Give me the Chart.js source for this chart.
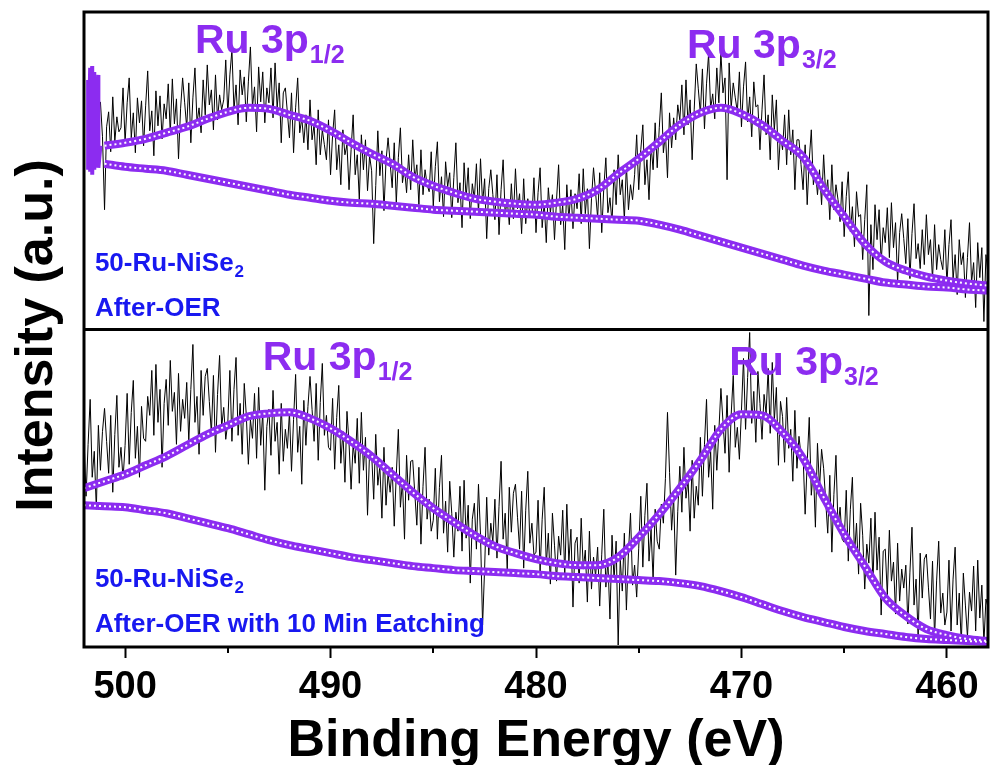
<!DOCTYPE html>
<html>
<head>
<meta charset="utf-8">
<script src="https://cdn.jsdelivr.net/npm/chart.js@4.4.1/dist/chart.umd.min.js"></script>
<style>
  html, body { margin: 0; padding: 0; background: #fff; }
</style>
</head>
<body>
<canvas id="chart" width="990" height="765"></canvas>
<script>
// raw spectra, 0.1 eV grid, intensity in a.u.
var rawStep = 0.1;
var topRawStart = 501.2;
var topRaw = [
    228,193,120,203,218,178,233,188,213,198, 202,242,187,227,252,192,217,177,232,207,
    229,184,224,259,199,219,174,239,204,234, 191,226,211,246,196,251,206,231,171,221,
    252,227,202,247,187,232,262,207,222,197, 250,215,265,225,240,200,255,210,235,220,
    230,270,215,255,280,220,245,205,260,235, 253,208,248,283,223,243,198,263,228,258,
    207,242,227,262,212,267,222,247,187,237, 242,217,192,237,177,222,252,197,212,187,
    215,180,230,190,205,165,220,175,200,185, 170,210,155,195,220,160,185,145,200,175,
    185,140,180,215,155,175,130,195,160,190, 139,174,159,86,144,199,154,179,119,169,
    192,167,142,187,127,172,202,147,162,137, 175,140,190,150,165,125,180,135,160,145,
    138,178,123,163,188,128,153,113,168,143, 157,112,152,187,127,147,102,167,132,162,
    111,146,131,166,116,171,126,151,91,141, 160,135,110,155,95,140,170,115,130,105,
    146,111,161,121,136,96,151,106,131,116, 112,152,97,137,162,102,127,87,142,117,
    135,90,130,165,105,125,80,145,110,140, 101,136,121,156,106,161,116,141,81,131,
    162,137,112,157,97,142,172,117,132,107, 160,125,175,135,150,110,165,120,145,130,
    155,195,140,180,205,145,170,130,185,160, 207,162,202,237,177,197,152,217,182,212,
    190,225,210,245,195,250,205,230,170,220, 266,241,216,261,201,246,276,221,236,211,
    262,227,277,237,252,150,267,222,247,232, 218,258,203,243,268,208,233,193,248,223,
    225,180,220,255,195,215,170,235,200,230, 160,195,180,215,165,220,175,200,140,190,
    190,165,140,185,125,170,200,145,160,135, 160,125,175,135,150,110,165,120,145,130,
    108,148,93,133,158,98,123,83,138,113, 115,70,110,145,14,105,60,125,90,120,
    67,102,87,122,72,127,82,107,47,97, 116,91,66,111,51,96,126,71,86,61,
    100,65,115,75,90,50,105,60,85,70, 60,100,45,85,110,50,75,35,90,65,
    77,32,72,107,47,67,22,87,52,82, 8,75,55
];
var bottomRawStart = 502.0;
var bottomRaw = [
    210,151,203,248,170,196,138,222,177,216, 239,206,174,232,155,213,252,180,200,168,
    202,254,183,235,267,189,221,170,241,209, 206,251,232,277,212,283,225,258,180,244,
    268,222,287,236,255,203,274,216,248,229, 265,206,258,303,225,251,193,277,232,271,
    279,246,214,272,195,253,292,220,240,208, 225,277,206,258,290,212,244,193,264,232,
    183,228,209,254,189,260,202,235,157,221, 238,192,257,206,225,173,244,186,218,199,
    235,176,228,273,195,221,163,247,202,241, 271,238,206,264,187,245,284,212,232,200,
    197,249,178,230,262,184,216,165,236,204, 158,203,184,229,164,235,177,210,132,196,
    194,148,213,162,181,129,200,142,174,155, 180,121,173,218,140,166,108,192,147,186,
    187,154,122,180,103,161,200,128,148,116, 127,179,108,160,192,114,146,95,166,134,
    90,135,116,161,96,167,109,142,64,128, 144,98,163,112,22,79,150,92,124,105,
    148,89,141,186,108,134,76,160,115,154, 163,130,98,156,79,137,176,104,124,92,
    95,147,76,128,160,82,114,63,134,102, 66,111,92,137,72,143,85,118,40,104,
    110,64,129,78,97,45,116,58,90,71, 100,41,93,138,60,86,28,112,67,106,
    2,88,56,114,37,95,134,62,82,50, 99,151,80,132,164,86,118,67,138,106,
    98,143,124,169,235,175,117,150,72,136, 181,135,200,149,168,116,187,129,161,142,
    210,151,203,248,170,196,138,222,177,216, 259,226,194,252,175,233,272,200,220,188,
    237,289,218,270,315,224,256,205,276,244, 208,253,234,279,214,285,227,260,182,246,
    231,185,250,199,218,166,237,179,211,192, 192,133,185,230,152,178,120,204,159,198,
    179,146,114,172,95,153,192,120,140,108, 105,157,86,138,170,92,124,73,144,112,
    58,103,84,129,64,135,77,110,32,96, 98,52,117,66,85,33,104,46,78,59,
    82,23,75,120,42,68,10,94,49,88, 93,60,28,86,9,67,106,34,54,22,
    35,87,16,68,100,22,54,3,74,42, 10,55,36,81,16,87,29,62,4,48,
    40
];

// peak fit (envelope) and Shirley background, 1 eV grid
var fitStep = 1;
var topFitStart = 501;
var topEnvelope = [184,187,191,197,203,211,218,222,221,215,209,199,187,176,166,153,144,137,131,128,126,125,
    127,131,140,156,171,188,205,217,222,216,205,189,173,141,113,86,68,59,53,49,46,44];
var topBackground = [166,163,161,159,155,151,147,143,139,135,132,129,127,126,124,122,120,119,118,117,116,115,
    113,112,111,110,109,105,100,94,88,82,76,70,64,59,55,51,47,45,43,42,40,39];
var bottomFitStart = 502;
var bottomEnvelope = [159,166,173,182,191,202,213,222,231,234,235,229,219,206,191,173,155,139,125,112,101,94,88,
    84,82,82,90,110,133,159,187,218,233,232,215,189,150,113,81,49,31,18,12,8,6];
var bottomBackground = [142,141,140,137,134,129,124,119,113,107,102,98,94,90,87,84,81,79,77,76,75,74,73,
    71,70,69,68,67,66,64,61,56,50,43,36,30,25,20,16,13,10,8,7,6,5];

// fit markers piled up at the low-energy start of the upper scan
var topStartEnergy = [501.8, 501.8, 501.7, 501.7, 501.6, 501.6, 501.5, 501.5, 501.3, 501.3, 501.2];
var topStartValue = [250, 160, 262, 158, 264, 155, 258, 160, 255, 162, 184];

var xTicks = [500, 490, 480, 470, 460];
var xMinorTicks = [495, 485, 475, 465];

var purple = '#8c2cf0';
var blue = '#1818f0';

function series(start, step, values) {
    return values.map(function (v, i) {
        return { x: +(start - i * step).toFixed(2), y: v };
    });
}

function fitLine(data, axis) {
    return [{
        data: data, yAxisID: axis, borderColor: purple, borderWidth: 8,
        pointRadius: 0, cubicInterpolationMode: 'monotone', order: 2
    }, {
        data: data, yAxisID: axis, borderColor: '#ffffff', borderWidth: 2, borderDash: [2, 3],
        pointRadius: 0, cubicInterpolationMode: 'monotone', order: 1
    }];
}

var datasets = [];
datasets.push({ data: series(topRawStart, rawStep, topRaw), yAxisID: 'yTop', borderColor: '#000', borderWidth: 1, pointRadius: 0, order: 5 });
datasets.push({ data: series(bottomRawStart, rawStep, bottomRaw), yAxisID: 'yBottom', borderColor: '#000', borderWidth: 1, pointRadius: 0, order: 5 });
datasets = datasets.concat(fitLine(series(topFitStart, fitStep, topBackground), 'yTop'));
datasets = datasets.concat(fitLine(series(topFitStart, fitStep, topEnvelope), 'yTop'));
datasets = datasets.concat(fitLine(series(bottomFitStart, fitStep, bottomBackground), 'yBottom'));
datasets = datasets.concat(fitLine(series(bottomFitStart, fitStep, bottomEnvelope), 'yBottom'));
datasets.push({
    data: topStartEnergy.map(function (e, i) { return { x: e, y: topStartValue[i] }; }),
    yAxisID: 'yTop', borderColor: purple, borderWidth: 4, pointRadius: 0, order: 2
});

function drawPeakLabel(ctx, x, y, main, sub) {
    ctx.fillStyle = purple;
    ctx.textAlign = 'left';
    ctx.textBaseline = 'alphabetic';
    ctx.font = 'bold 41px "Liberation Sans", Arial, sans-serif';
    ctx.fillText(main, x, y);
    var w = ctx.measureText(main).width;
    ctx.font = 'bold 25px "Liberation Sans", Arial, sans-serif';
    ctx.fillText(sub, x + w + 1, y + 10);
}

function drawSample(ctx, x, y, text, sub) {
    ctx.fillStyle = blue;
    ctx.textAlign = 'left';
    ctx.textBaseline = 'alphabetic';
    ctx.font = 'bold 26px "Liberation Sans", Arial, sans-serif';
    ctx.fillText(text, x, y);
    if (sub) {
        var w = ctx.measureText(text).width;
        ctx.font = 'bold 17px "Liberation Sans", Arial, sans-serif';
        ctx.fillText(sub, x + w + 1, y + 6);
    }
}

var framePlugin = {
    id: 'frame',
    afterDatasetsDraw: function (chart) {
        var ctx = chart.ctx;
        var a = chart.chartArea;
        var xs = chart.scales.x;
        var yt = chart.scales.yTop;
        var yb = chart.scales.yBottom;
        ctx.save();
        ctx.strokeStyle = '#000';
        ctx.lineWidth = 3;
        ctx.strokeRect(a.left, a.top, a.right - a.left, a.bottom - a.top);
        ctx.beginPath();
        ctx.moveTo(a.left, yt.bottom);
        ctx.lineTo(a.right, yt.bottom);
        ctx.stroke();
        ctx.lineWidth = 2;
        xMinorTicks.forEach(function (t) {
            var px = Math.round(xs.getPixelForValue(t));
            ctx.beginPath();
            ctx.moveTo(px, a.bottom);
            ctx.lineTo(px, a.bottom + 6);
            ctx.stroke();
        });

        drawPeakLabel(ctx, xs.getPixelForValue(496.6), yt.getPixelForValue(277), 'Ru 3p', '1/2');
        drawPeakLabel(ctx, xs.getPixelForValue(472.65), yt.getPixelForValue(272), 'Ru 3p', '3/2');
        drawPeakLabel(ctx, xs.getPixelForValue(493.3), yb.getPixelForValue(277), 'Ru 3p', '1/2');
        drawPeakLabel(ctx, xs.getPixelForValue(470.6), yb.getPixelForValue(272), 'Ru 3p', '3/2');

        drawSample(ctx, xs.getPixelForValue(501.47), yt.getPixelForValue(59), '50-Ru-NiSe', '2');
        drawSample(ctx, xs.getPixelForValue(501.47), yt.getPixelForValue(14), 'After-OER');
        drawSample(ctx, xs.getPixelForValue(501.47), yb.getPixelForValue(60), '50-Ru-NiSe', '2');
        drawSample(ctx, xs.getPixelForValue(501.47), yb.getPixelForValue(15), 'After-OER with 10 Min Eatching');

        ctx.translate(38, (a.top + a.bottom) / 2 + 6);
        ctx.rotate(-Math.PI / 2);
        ctx.fillStyle = '#000';
        ctx.textAlign = 'center';
        ctx.textBaseline = 'middle';
        ctx.font = 'bold 52px "Liberation Sans", Arial, sans-serif';
        ctx.fillText('Intensity (a.u.)', 0, 0);
        ctx.restore();
    }
};

var chart = new Chart(document.getElementById('chart').getContext('2d'), {
    type: 'line',
    data: { datasets: datasets },
    options: {
        responsive: false,
        animation: false,
        layout: { padding: { left: 84, right: 2, top: 12, bottom: 0 } },
        plugins: {
            legend: { display: false },
            tooltip: { enabled: false }
        },
        scales: {
            x: {
                type: 'linear',
                reverse: true,
                min: 458,
                max: 502,
                position: 'bottom',
                border: { display: false },
                afterBuildTicks: function (scale) {
                    scale.ticks = xTicks.map(function (v) { return { value: v }; });
                },
                afterFit: function (scale) {
                    scale.height = 118;
                },
                grid: {
                    drawOnChartArea: false,
                    drawTicks: true,
                    tickLength: 11,
                    tickWidth: 2,
                    tickColor: '#000'
                },
                ticks: {
                    color: '#000',
                    padding: 11,
                    maxRotation: 0,
                    font: { family: '"Liberation Sans", Arial, sans-serif', size: 38, weight: 'bold', lineHeight: 1 }
                },
                title: {
                    display: true,
                    text: 'Binding Energy (eV)',
                    color: '#000',
                    padding: { top: 0, bottom: 0 },
                    font: { family: '"Liberation Sans", Arial, sans-serif', size: 52, weight: 'bold', lineHeight: 0.9 }
                }
            },
            yBottom: {
                type: 'linear',
                position: 'left',
                stack: 'panels',
                stackWeight: 1,
                min: 0,
                max: 318,
                display: false
            },
            yTop: {
                type: 'linear',
                position: 'left',
                stack: 'panels',
                stackWeight: 1,
                min: 0,
                max: 318,
                display: false
            }
        }
    },
    plugins: [framePlugin]
});
</script>
</body>
</html>
